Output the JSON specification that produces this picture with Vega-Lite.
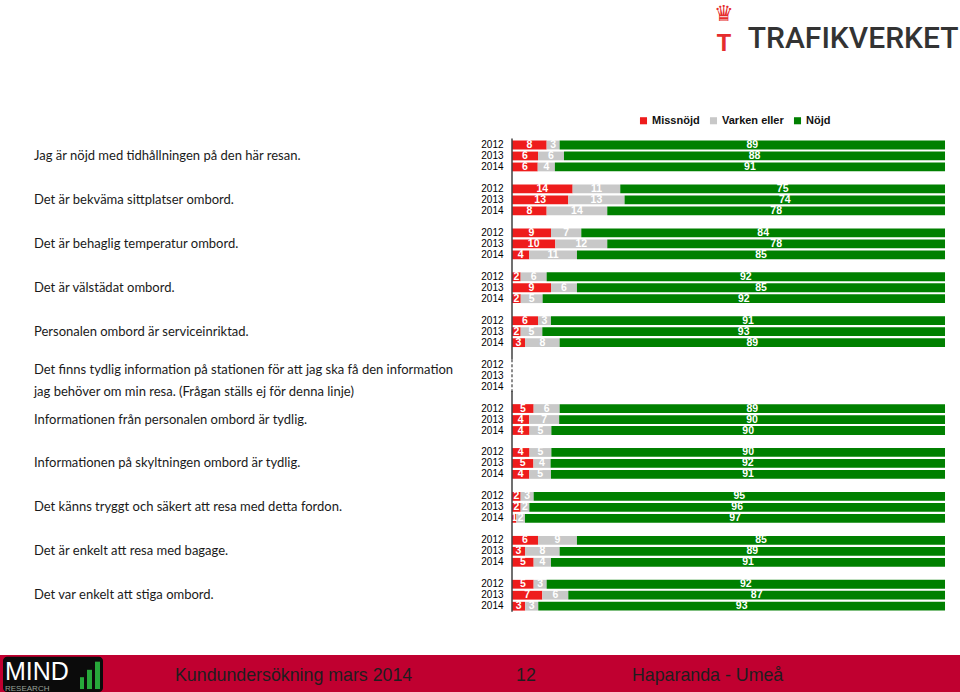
{
  "$schema": "https://vega.github.io/schema/vega-lite/v6.json",
  "padding": 0,
  "spacing": 0,
  "background": "white",
  "config": {"view": {"stroke": null}, "font": "Liberation Sans", "concat": {"spacing": 0}},
  "datasets": {
    "survey": [
      {"row": "01-2012", "year": "2012", "Missnöjd": 8, "Varken eller": 3, "Nöjd": 89},
      {"row": "01-2013", "year": "2013", "Missnöjd": 6, "Varken eller": 6, "Nöjd": 88},
      {"row": "01-2014", "year": "2014", "Missnöjd": 6, "Varken eller": 4, "Nöjd": 91},
      {"row": "02-2012", "year": "2012", "Missnöjd": 14, "Varken eller": 11, "Nöjd": 75},
      {"row": "02-2013", "year": "2013", "Missnöjd": 13, "Varken eller": 13, "Nöjd": 74},
      {"row": "02-2014", "year": "2014", "Missnöjd": 8, "Varken eller": 14, "Nöjd": 78},
      {"row": "03-2012", "year": "2012", "Missnöjd": 9, "Varken eller": 7, "Nöjd": 84},
      {"row": "03-2013", "year": "2013", "Missnöjd": 10, "Varken eller": 12, "Nöjd": 78},
      {"row": "03-2014", "year": "2014", "Missnöjd": 4, "Varken eller": 11, "Nöjd": 85},
      {"row": "04-2012", "year": "2012", "Missnöjd": 2, "Varken eller": 6, "Nöjd": 92},
      {"row": "04-2013", "year": "2013", "Missnöjd": 9, "Varken eller": 6, "Nöjd": 85},
      {"row": "04-2014", "year": "2014", "Missnöjd": 2, "Varken eller": 5, "Nöjd": 92},
      {"row": "05-2012", "year": "2012", "Missnöjd": 6, "Varken eller": 3, "Nöjd": 91},
      {"row": "05-2013", "year": "2013", "Missnöjd": 2, "Varken eller": 5, "Nöjd": 93},
      {"row": "05-2014", "year": "2014", "Missnöjd": 3, "Varken eller": 8, "Nöjd": 89},
      {"row": "06-2012", "year": "2012"},
      {"row": "06-2013", "year": "2013"},
      {"row": "06-2014", "year": "2014"},
      {"row": "07-2012", "year": "2012", "Missnöjd": 5, "Varken eller": 6, "Nöjd": 89},
      {"row": "07-2013", "year": "2013", "Missnöjd": 4, "Varken eller": 7, "Nöjd": 90},
      {"row": "07-2014", "year": "2014", "Missnöjd": 4, "Varken eller": 5, "Nöjd": 90},
      {"row": "08-2012", "year": "2012", "Missnöjd": 4, "Varken eller": 5, "Nöjd": 90},
      {"row": "08-2013", "year": "2013", "Missnöjd": 5, "Varken eller": 4, "Nöjd": 92},
      {"row": "08-2014", "year": "2014", "Missnöjd": 4, "Varken eller": 5, "Nöjd": 91},
      {"row": "09-2012", "year": "2012", "Missnöjd": 2, "Varken eller": 3, "Nöjd": 95},
      {"row": "09-2013", "year": "2013", "Missnöjd": 2, "Varken eller": 2, "Nöjd": 96},
      {"row": "09-2014", "year": "2014", "Missnöjd": 1, "Varken eller": 2, "Nöjd": 97},
      {"row": "10-2012", "year": "2012", "Missnöjd": 6, "Varken eller": 9, "Nöjd": 85},
      {"row": "10-2013", "year": "2013", "Missnöjd": 3, "Varken eller": 8, "Nöjd": 89},
      {"row": "10-2014", "year": "2014", "Missnöjd": 5, "Varken eller": 4, "Nöjd": 91},
      {"row": "11-2012", "year": "2012", "Missnöjd": 5, "Varken eller": 3, "Nöjd": 92},
      {"row": "11-2013", "year": "2013", "Missnöjd": 7, "Varken eller": 6, "Nöjd": 87},
      {"row": "11-2014", "year": "2014", "Missnöjd": 3, "Varken eller": 3, "Nöjd": 93}
    ],
    "statements": [
      {"row": "01-2013", "statement": "Jag är nöjd med tidhållningen på den här resan."},
      {"row": "02-2013", "statement": "Det är bekväma sittplatser ombord."},
      {"row": "03-2013", "statement": "Det är behaglig temperatur ombord."},
      {"row": "04-2013", "statement": "Det är välstädat ombord."},
      {"row": "05-2013", "statement": "Personalen ombord är serviceinriktad."},
      {"row": "06-2013", "statement": "Det finns tydlig information på stationen för att jag ska få den information\njag behöver om min resa. (Frågan ställs ej för denna linje)"},
      {"row": "07-2013", "statement": "Informationen från personalen ombord är tydlig."},
      {"row": "08-2013", "statement": "Informationen på skyltningen ombord är tydlig."},
      {"row": "09-2013", "statement": "Det känns tryggt och säkert att resa med detta fordon."},
      {"row": "10-2013", "statement": "Det är enkelt att resa med bagage."},
      {"row": "11-2013", "statement": "Det var enkelt att stiga ombord."}
    ]
  },
  "vconcat": [
    {
      "width": 960,
      "height": 655,
      "resolve": {"scale": {"y": "independent"}},
      "layer": [
        {
          "layer": [
            {
              "data": {"name": "survey"},
              "transform": [
                {"filter": "isValid(datum['Nöjd'])"},
                {"fold": ["Missnöjd", "Varken eller", "Nöjd"], "as": ["cat", "v"]},
                {"calculate": "indexof(['Missnöjd','Varken eller','Nöjd'], datum.cat)", "as": "ord"},
                {"stack": "v", "groupby": ["row"], "sort": [{"field": "ord"}], "offset": "normalize", "as": ["v0", "v1"]}
              ],
              "mark": {"type": "bar"},
              "encoding": {
                "y": {
                  "field": "row", "type": "nominal",
                  "scale": {
                    "domain": ["01-2012","01-2013","01-2014","01-x","02-2012","02-2013","02-2014","02-x","03-2012","03-2013","03-2014","03-x","04-2012","04-2013","04-2014","04-x","05-2012","05-2013","05-2014","05-x","06-2012","06-2013","06-2014","06-x","07-2012","07-2013","07-2014","07-x","08-2012","08-2013","08-2014","08-x","09-2012","09-2013","09-2014","09-x","10-2012","10-2013","10-2014","10-x","11-2012","11-2013","11-2014"],
                    "range": [139.5, 611.7],
                    "paddingInner": 0.2,
                    "paddingOuter": 0.1
                  },
                  "axis": null
                },
                "x": {
                  "field": "v0", "type": "quantitative",
                  "scale": {"domain": [-1.1824, 1.0346], "nice": false, "zero": false},
                  "axis": {
                    "orient": "top", "labels": false, "ticks": false, "domain": false, "grid": false,
                    "title": "TRAFIKVERKET", "titleX": 958, "titleY": 47, "titleAlign": "right",
                    "titleBaseline": "alphabetic", "titleAngle": 0, "titleFontSize": 30,
                    "titleFont": "Roboto", "titleFontWeight": 500, "titleColor": "#333333"
                  }
                },
                "x2": {"field": "v1"},
                "color": {
                  "field": "cat", "type": "nominal",
                  "scale": {"domain": ["Missnöjd", "Varken eller", "Nöjd"], "range": ["#ee1c1c", "#c8c8c8", "#008000"]},
                  "legend": {
                    "orient": "none", "legendX": 638, "legendY": 115, "direction": "horizontal",
                    "title": null, "symbolType": "square", "symbolSize": 50, "symbolStrokeWidth": 0,
                    "labelFontSize": 11, "labelFontWeight": "bold", "labelColor": "#111111",
                    "columnPadding": 8, "labelOffset": 3
                  }
                }
              }
            },
            {
              "data": {"name": "survey"},
              "transform": [
                {"filter": "isValid(datum['Nöjd'])"},
                {"fold": ["Missnöjd", "Varken eller", "Nöjd"], "as": ["cat", "v"]},
                {"calculate": "indexof(['Missnöjd','Varken eller','Nöjd'], datum.cat)", "as": "ord"},
                {"stack": "v", "groupby": ["row"], "sort": [{"field": "ord"}], "offset": "normalize", "as": ["v0", "v1"]},
                {"calculate": "(datum.v0 + datum.v1) / 2", "as": "mid"}
              ],
              "mark": {"type": "text", "color": "white", "fontWeight": "bold", "fontSize": 10.5, "baseline": "middle", "align": "center"},
              "encoding": {
                "y": {"field": "row", "type": "nominal"},
                "x": {"field": "mid", "type": "quantitative"},
                "text": {"field": "v", "type": "quantitative"}
              }
            },
            {
              "data": {"name": "survey"},
              "mark": {"type": "text", "align": "right", "baseline": "middle", "fontSize": 10, "color": "#000000"},
              "encoding": {
                "y": {"field": "row", "type": "nominal"},
                "x": {"datum": -0.0196, "type": "quantitative"},
                "text": {"field": "year", "type": "nominal"}
              }
            },
            {
              "data": {"name": "statements"},
              "transform": [{"filter": "datum.row != '06-2013'"}],
              "mark": {"type": "text", "align": "left", "baseline": "middle", "font": "Lato", "fontSize": 13, "color": "#1a1a1a"},
              "encoding": {
                "y": {"field": "row", "type": "nominal"},
                "x": {"datum": -1.1039, "type": "quantitative"},
                "text": {"field": "statement", "type": "nominal"}
              }
            },
            {
              "data": {"name": "statements"},
              "transform": [{"filter": "datum.row == '06-2013'"}],
              "mark": {"type": "text", "align": "left", "baseline": "middle", "font": "Lato", "fontSize": 13, "color": "#1a1a1a", "lineBreak": "\n", "lineHeight": 22, "dy": -6},
              "encoding": {
                "y": {"field": "row", "type": "nominal"},
                "x": {"datum": -1.1039, "type": "quantitative"},
                "text": {"field": "statement", "type": "nominal"}
              }
            },
            {
              "data": {"values": [{"a": "01-2012", "b": "05-x"}, {"a": "06-x", "b": "11-2014"}]},
              "mark": {"type": "rule", "color": "#404040", "strokeWidth": 1.5, "yOffset": -6.5, "y2Offset": 5.49},
              "encoding": {
                "y": {"field": "a", "type": "nominal"},
                "y2": {"field": "b"},
                "x": {"datum": 0, "type": "quantitative"}
              }
            },
            {
              "data": {"values": [{"a": "06-2012", "b": "06-2014"}]},
              "mark": {"type": "rule", "color": "#404040", "strokeWidth": 1.2, "strokeDash": [3, 2], "yOffset": -5.49, "y2Offset": 5.49},
              "encoding": {
                "y": {"field": "a", "type": "nominal"},
                "y2": {"field": "b"},
                "x": {"datum": 0, "type": "quantitative"}
              }
            }
          ]
        },
        {
          "layer": [
            {
              "data": {"values": [{"t": "♛"}]},
              "mark": {"type": "text", "align": "center", "baseline": "middle", "font": "DejaVu Sans", "fontSize": 22, "color": "#e52d2d"},
              "encoding": {
                "x": {"datum": 0.4895, "type": "quantitative"},
                "y": {"datum": 14, "type": "quantitative", "scale": {"domain": [0, 655], "range": [0, 655], "nice": false, "zero": false}, "axis": null},
                "text": {"field": "t"}
              }
            },
            {
              "data": {"values": [{"t": "T"}]},
              "mark": {"type": "text", "align": "center", "baseline": "middle", "font": "Roboto", "fontWeight": "bold", "fontSize": 24, "color": "#e52d2d"},
              "encoding": {
                "x": {"datum": 0.4895, "type": "quantitative"},
                "y": {"datum": 44, "type": "quantitative"},
                "text": {"field": "t"}
              }
            }
          ]
        }
      ]
    },
    {
      "width": 960,
      "height": 37,
      "view": {"fill": "#c00030", "stroke": null},
      "layer": [
        {
          "data": {"values": [{"t": "logo"}]},
          "mark": {"type": "rect", "color": "#0b0b0b", "cornerRadius": 4},
          "encoding": {
            "x": {"datum": 3, "type": "quantitative", "scale": {"domain": [0, 960], "nice": false, "zero": false}, "axis": null},
            "x2": {"datum": 103},
            "y": {"datum": 0.95, "type": "quantitative", "scale": {"domain": [0, 1], "nice": false}, "axis": null},
            "y2": {"datum": 0}
          }
        },
        {
          "data": {"values": [{"t": "bar"}]},
          "mark": {"type": "rect", "color": "#27a83a"},
          "encoding": {"x": {"datum": 80, "type": "quantitative"}, "x2": {"datum": 84}, "y": {"datum": 0.4, "type": "quantitative"}, "y2": {"datum": 0.08}}
        },
        {
          "data": {"values": [{"t": "bar"}]},
          "mark": {"type": "rect", "color": "#27a83a"},
          "encoding": {"x": {"datum": 87, "type": "quantitative"}, "x2": {"datum": 92}, "y": {"datum": 0.6, "type": "quantitative"}, "y2": {"datum": 0.08}}
        },
        {
          "data": {"values": [{"t": "bar"}]},
          "mark": {"type": "rect", "color": "#27a83a"},
          "encoding": {"x": {"datum": 95, "type": "quantitative"}, "x2": {"datum": 100}, "y": {"datum": 0.82, "type": "quantitative"}, "y2": {"datum": 0.08}}
        },
        {
          "data": {"values": [{"t": "MIND"}]},
          "mark": {"type": "text", "align": "left", "baseline": "alphabetic", "fontSize": 25, "color": "white"},
          "encoding": {
            "x": {"datum": 5, "type": "quantitative"},
            "y": {"datum": 0.33, "type": "quantitative"},
            "text": {"field": "t"}
          }
        },
        {
          "data": {"values": [{"t": "RESEARCH"}]},
          "mark": {"type": "text", "align": "left", "baseline": "alphabetic", "fontSize": 8, "color": "#9aa39a"},
          "encoding": {
            "x": {"datum": 5, "type": "quantitative"},
            "y": {"datum": 0.04, "type": "quantitative"},
            "text": {"field": "t"}
          }
        },
        {
          "data": {"values": [{"t": "Kundundersökning mars 2014"}]},
          "mark": {"type": "text", "align": "left", "baseline": "middle", "fontSize": 17.8, "color": "#1e1e1e"},
          "encoding": {
            "x": {"datum": 175, "type": "quantitative"},
            "y": {"datum": 0.42, "type": "quantitative"},
            "text": {"field": "t"}
          }
        },
        {
          "data": {"values": [{"t": "12"}]},
          "mark": {"type": "text", "align": "left", "baseline": "middle", "fontSize": 17.8, "color": "#1e1e1e"},
          "encoding": {
            "x": {"datum": 516, "type": "quantitative"},
            "y": {"datum": 0.42, "type": "quantitative"},
            "text": {"field": "t"}
          }
        },
        {
          "data": {"values": [{"t": "Haparanda - Umeå"}]},
          "mark": {"type": "text", "align": "left", "baseline": "middle", "fontSize": 17.8, "color": "#1e1e1e"},
          "encoding": {
            "x": {"datum": 632, "type": "quantitative"},
            "y": {"datum": 0.42, "type": "quantitative"},
            "text": {"field": "t"}
          }
        }
      ]
    }
  ]
}
